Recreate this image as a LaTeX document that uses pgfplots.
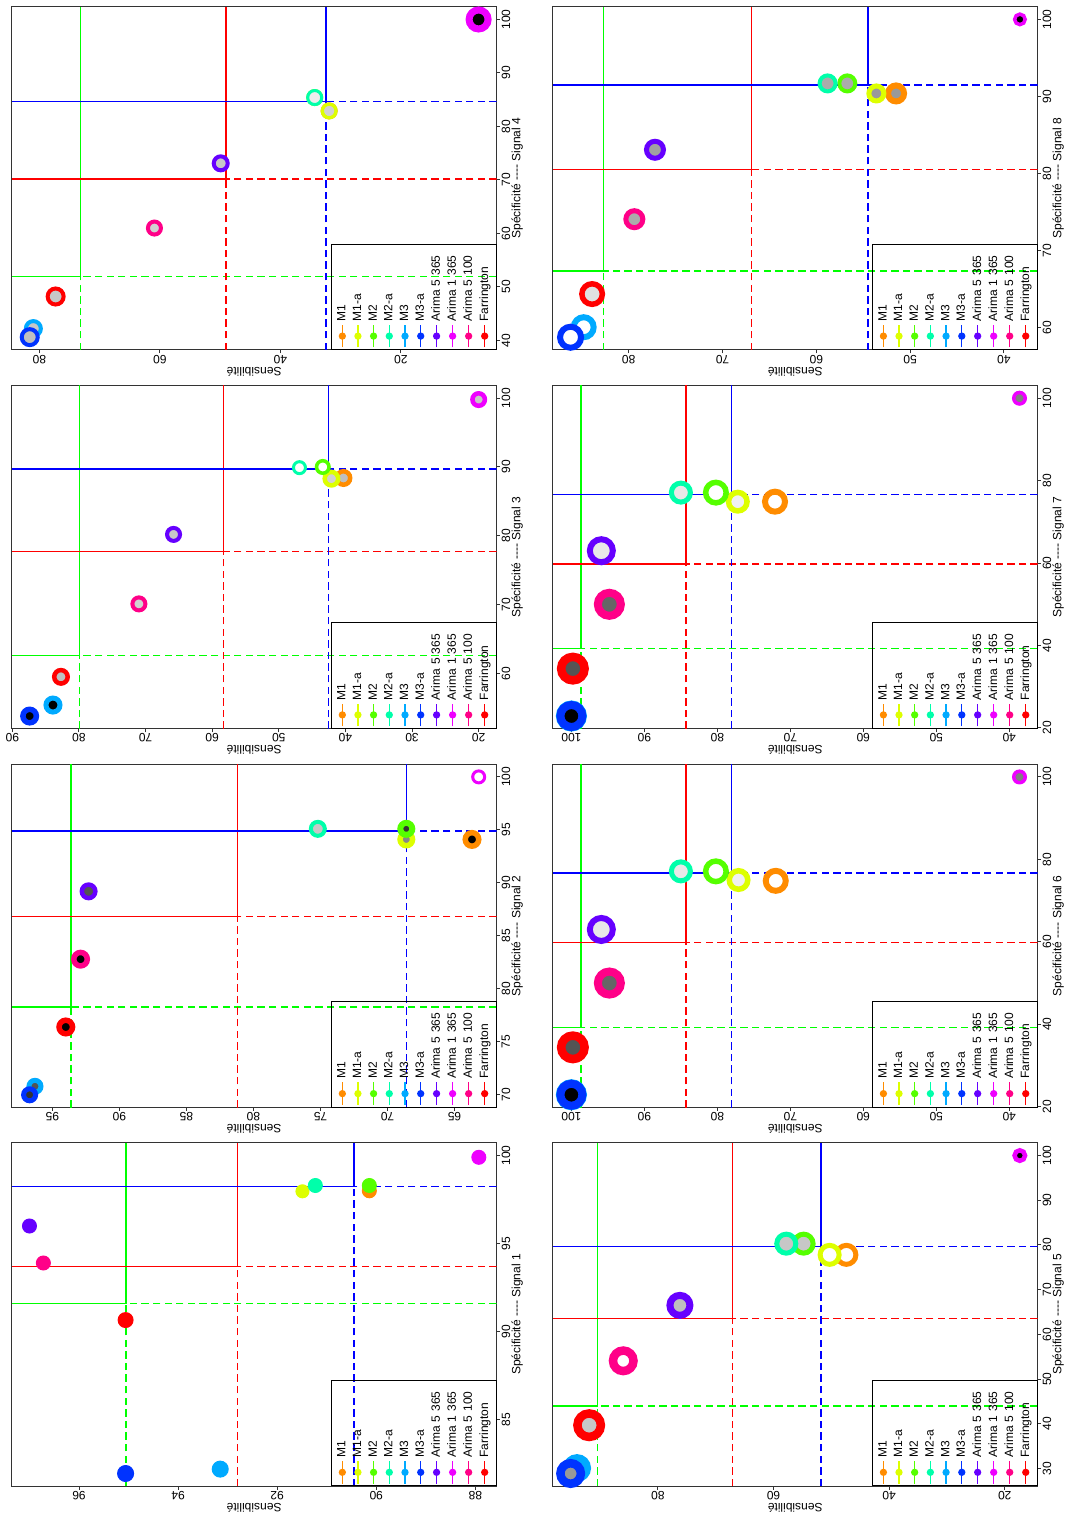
\documentclass[border=0pt]{standalone}
\usepackage{graphicx}
\usepackage{fontspec}
\setmainfont{Liberation Sans}
\usepackage{pgfplots}
\pgfplotsset{compat=1.18}

\definecolor{cMa}{HTML}{FF8C00}
\definecolor{cMb}{HTML}{DDFF00}
\definecolor{cMc}{HTML}{55FF00}
\definecolor{cMd}{HTML}{00FFAA}
\definecolor{cMe}{HTML}{00AAFF}
\definecolor{cMf}{HTML}{0033FF}
\definecolor{cAa}{HTML}{6600FF}
\definecolor{cAb}{HTML}{EE00FF}
\definecolor{cAc}{HTML}{FF0088}
\definecolor{cFa}{HTML}{FF0000}
\definecolor{frame}{HTML}{333333}
\definecolor{lgr}{HTML}{00FF00}
\definecolor{lrd}{HTML}{FF0000}
\definecolor{lbl}{HTML}{0000FF}

\newcommand{\fs}{\fontsize{9}{10.8}\selectfont}

\pgfplotsset{
  panel/.style={
    scale only axis, width=257.5pt, height=363.75pt,
    anchor=south west,
    axis line style={draw=frame, line width=0.75pt},
    tick align=outside, xtick pos=left, ytick pos=left,
    major tick length=2.6pt,
    tick style={draw=frame, line width=0.75pt},
    /pgf/number format/assume math mode=true,
    tick label style={font=\fs},
    xticklabel style={inner sep=1pt},
    yticklabel style={rotate=90, anchor=south, inner sep=1pt},
    label style={font=\fs},
    xlabel style={at={(axis description cs:0.5,-0.03)}, anchor=north, inner sep=0pt},
    ylabel style={at={(axis description cs:-0.049,0.5)}, anchor=south, inner sep=0pt},
    ylabel={Sensibilité},
    legend style={at={(0,0)}, anchor=south west, draw=black, line width=0.75pt, fill=none, font=\fs, inner xsep=1pt, inner ysep=2.6pt, row sep=0pt},
    legend cell align=left,
  },
  pt/.style n args={4}{forget plot, only marks, mark=*, mark size=#2, mark options={draw=#1, fill=#4, line width=#3, solid}},
  ls/.style={forget plot, no marks, line width=1pt},
  ds/.style={forget plot, no marks, line width=1pt, dash pattern=on 5.5pt off 3.2pt},
}

\newcommand{\leg}{%
\addlegendimage{cMa, line width=1pt, mark=*, mark size=2.2pt, mark options={solid, fill=cMa}}\addlegendentry[text width=55pt]{M1}
\addlegendimage{cMb, line width=1pt, mark=*, mark size=2.2pt, mark options={solid, fill=cMb}}\addlegendentry[text width=55pt]{M1-a}
\addlegendimage{cMc, line width=1pt, mark=*, mark size=2.2pt, mark options={solid, fill=cMc}}\addlegendentry[text width=55pt]{M2}
\addlegendimage{cMd, line width=1pt, mark=*, mark size=2.2pt, mark options={solid, fill=cMd}}\addlegendentry[text width=55pt]{M2-a}
\addlegendimage{cMe, line width=1pt, mark=*, mark size=2.2pt, mark options={solid, fill=cMe}}\addlegendentry[text width=55pt]{M3}
\addlegendimage{cMf, line width=1pt, mark=*, mark size=2.2pt, mark options={solid, fill=cMf}}\addlegendentry[text width=55pt]{M3-a}
\addlegendimage{cAa, line width=1pt, mark=*, mark size=2.2pt, mark options={solid, fill=cAa}}\addlegendentry[text width=55pt]{Arima 5 365}
\addlegendimage{cAb, line width=1pt, mark=*, mark size=2.2pt, mark options={solid, fill=cAb}}\addlegendentry[text width=55pt]{Arima 1 365}
\addlegendimage{cAc, line width=1pt, mark=*, mark size=2.2pt, mark options={solid, fill=cAc}}\addlegendentry[text width=55pt]{Arima 5 100}
\addlegendimage{cFa, line width=1pt, mark=*, mark size=2.2pt, mark options={solid, fill=cFa}}\addlegendentry[text width=55pt]{Farrington}
}

\begin{document}
\rotatebox{90}{%
\begin{tikzpicture}

% ---------------- Signal 1
\begin{axis}[panel, at={(21.6pt,428.5pt)}, xmin=81.23, xmax=100.72, ymin=87.57, ymax=97.36,
  xtick={85,90,95,100}, ytick={88,90,92,94,96}, xlabel={Spécificité {-}{-}{-}{-} Signal 1}]
\leg
\addplot[pt={cMa}{5.25pt}{0.75pt}{cMa}] coordinates {(98.0,90.14)};
\addplot[pt={cMb}{4.9pt}{0.75pt}{cMb}] coordinates {(97.97,91.49)};
\addplot[pt={cMc}{5.25pt}{0.75pt}{cMc}] coordinates {(98.3,90.14)};
\addplot[pt={cMd}{5.25pt}{0.75pt}{cMd}] coordinates {(98.3,91.23)};
\addplot[pt={cMe}{6.0pt}{0.75pt}{cMe}] coordinates {(82.2,93.15)};
\addplot[pt={cMf}{6.0pt}{0.75pt}{cMf}] coordinates {(81.95,95.06)};
\addplot[pt={cAa}{5.25pt}{0.75pt}{cAa}] coordinates {(96.0,97.0)};
\addplot[pt={cAb}{5.25pt}{0.75pt}{cAb}] coordinates {(99.9,87.93)};
\addplot[pt={cAc}{5.25pt}{0.75pt}{cAc}] coordinates {(93.9,96.72)};
\addplot[pt={cFa}{5.6pt}{0.75pt}{cFa}] coordinates {(90.66,95.06)};
\addplot[ds, lgr] coordinates {(81.23,95.05)(91.6,95.05)};
\addplot[ls, lgr] coordinates {(91.6,95.05)(100.72,95.05)};
\addplot[ds, lgr] coordinates {(91.6,87.57)(91.6,95.05)};
\addplot[ls, lgr] coordinates {(91.6,95.05)(91.6,97.36)};
\addplot[ds, lrd] coordinates {(81.23,92.8)(93.7,92.8)};
\addplot[ls, lrd] coordinates {(93.7,92.8)(100.72,92.8)};
\addplot[ds, lrd] coordinates {(93.7,87.57)(93.7,92.8)};
\addplot[ls, lrd] coordinates {(93.7,92.8)(93.7,97.36)};
\addplot[ds, lbl] coordinates {(81.23,90.45)(98.24,90.45)};
\addplot[ls, lbl] coordinates {(98.24,90.45)(100.72,90.45)};
\addplot[ds, lbl] coordinates {(98.24,87.57)(98.24,90.45)};
\addplot[ls, lbl] coordinates {(98.24,90.45)(98.24,97.36)};
\end{axis}

% ---------------- Signal 2
\begin{axis}[panel, at={(305.6pt,428.5pt)}, xmin=68.8, xmax=101.2, ymin=61.86, ymax=98.04,
  xtick={70,75,80,85,90,95,100}, ytick={65,70,75,80,85,90,95}, xlabel={Spécificité {-}{-}{-}{-} Signal 2}]
\leg
\addplot[pt={cMa}{5.06pt}{4.13pt}{black}] coordinates {(94.1,63.7)};
\addplot[pt={cMb}{4.69pt}{4.13pt}{black!47}] coordinates {(94.1,68.6)};
\addplot[pt={cMc}{4.5pt}{4.5pt}{black!80}] coordinates {(95.1,68.6)};
\addplot[pt={cMd}{5.25pt}{3pt}{black!22}] coordinates {(95.1,75.2)};
\addplot[pt={cMe}{4.5pt}{3.75pt}{black!67}] coordinates {(70.8,96.3)};
\addplot[pt={cMf}{4.5pt}{3.75pt}{black!80}] coordinates {(70.0,96.7)};
\addplot[pt={cAa}{5.06pt}{3.38pt}{black!67}] coordinates {(89.2,92.3)};
\addplot[pt={cAb}{4.5pt}{2.25pt}{white}] coordinates {(100,63.2)};
\addplot[pt={cAc}{5.06pt}{4.13pt}{black}] coordinates {(82.8,92.9)};
\addplot[pt={cFa}{5.06pt}{4.13pt}{black}] coordinates {(76.4,94.0)};
\addplot[ds, lgr] coordinates {(68.8,93.6)(78.3,93.6)};
\addplot[ls, lgr] coordinates {(78.3,93.6)(101.2,93.6)};
\addplot[ds, lgr] coordinates {(78.3,61.86)(78.3,93.6)};
\addplot[ls, lgr] coordinates {(78.3,93.6)(78.3,98.04)};
\addplot[ds, lrd] coordinates {(68.8,81.2)(86.8,81.2)};
\addplot[ls, lrd] coordinates {(86.8,81.2)(101.2,81.2)};
\addplot[ds, lrd] coordinates {(86.8,61.86)(86.8,81.2)};
\addplot[ls, lrd] coordinates {(86.8,81.2)(86.8,98.04)};
\addplot[ds, lbl] coordinates {(68.8,68.6)(94.9,68.6)};
\addplot[ls, lbl] coordinates {(94.9,68.6)(101.2,68.6)};
\addplot[ds, lbl] coordinates {(94.9,61.86)(94.9,68.6)};
\addplot[ls, lbl] coordinates {(94.9,68.6)(94.9,98.04)};
\end{axis}

% ---------------- Signal 3
\begin{axis}[panel, at={(589.65pt,428.5pt)}, xmin=51.95, xmax=101.85, ymin=17.3, ymax=90.1,
  xtick={60,70,80,90,100}, ytick={20,30,40,50,60,70,80,90}, xlabel={Spécificité {-}{-}{-}{-} Signal 3}]
\leg
\addplot[pt={cMa}{5.06pt}{3.38pt}{black!25}] coordinates {(88.4,40.3)};
\addplot[pt={cMb}{5.06pt}{3.38pt}{black!18}] coordinates {(88.3,42.1)};
\addplot[pt={cMc}{4.69pt}{2.63pt}{white}] coordinates {(90.0,43.4)};
\addplot[pt={cMd}{4.5pt}{2.25pt}{white}] coordinates {(89.9,46.9)};
\addplot[pt={cMe}{5.25pt}{3.75pt}{black}] coordinates {(55.4,83.9)};
\addplot[pt={cMf}{5.06pt}{4.13pt}{black}] coordinates {(53.8,87.4)};
\addplot[pt={cAa}{4.88pt}{3pt}{black!22}] coordinates {(80.2,65.8)};
\addplot[pt={cAb}{4.69pt}{3.38pt}{black!22}] coordinates {(99.8,20.0)};
\addplot[pt={cAc}{4.88pt}{3pt}{black!18}] coordinates {(70.1,71.0)};
\addplot[pt={cFa}{5.06pt}{3.38pt}{black!25}] coordinates {(59.5,82.7)};
\addplot[ds, lgr] coordinates {(51.95,79.9)(62.6,79.9)};
\addplot[ls, lgr] coordinates {(62.6,79.9)(101.85,79.9)};
\addplot[ds, lgr] coordinates {(62.6,17.3)(62.6,79.9)};
\addplot[ls, lgr] coordinates {(62.6,79.9)(62.6,90.1)};
\addplot[ds, lrd] coordinates {(51.95,58.3)(77.7,58.3)};
\addplot[ls, lrd] coordinates {(77.7,58.3)(101.85,58.3)};
\addplot[ds, lrd] coordinates {(77.7,17.3)(77.7,58.3)};
\addplot[ls, lrd] coordinates {(77.7,58.3)(77.7,90.1)};
\addplot[ds, lbl] coordinates {(51.95,42.5)(89.7,42.5)};
\addplot[ls, lbl] coordinates {(89.7,42.5)(101.85,42.5)};
\addplot[ds, lbl] coordinates {(89.7,17.3)(89.7,42.5)};
\addplot[ls, lbl] coordinates {(89.7,42.5)(89.7,90.1)};
\end{axis}

% ---------------- Signal 4
\begin{axis}[panel, at={(873.75pt,428.5pt)}, xmin=38.2, xmax=102.4, ymin=4.1, ymax=84.6,
  xtick={40,50,60,70,80,90,100}, ytick={20,40,60,80}, xlabel={Spécificité {-}{-}{-}{-} Signal 4}]
\leg
\addplot[pt={cMa}{5.14pt}{2.48pt}{black!18}] coordinates {(82.9,31.9)};
\addplot[pt={cMb}{5.14pt}{2.48pt}{black!18}] coordinates {(82.9,31.9)};
\addplot[pt={cMc}{5.25pt}{2.25pt}{black!7}] coordinates {(85.4,34.3)};
\addplot[pt={cMd}{5.25pt}{2.25pt}{black!7}] coordinates {(85.4,34.3)};
\addplot[pt={cMe}{5.63pt}{3pt}{black!22}] coordinates {(42.2,81.0)};
\addplot[pt={cMf}{6pt}{3pt}{black!25}] coordinates {(40.6,81.6)};
\addplot[pt={cAa}{5.25pt}{3pt}{black!22}] coordinates {(73.1,49.9)};
\addplot[pt={cAb}{7.13pt}{5.25pt}{black}] coordinates {(100,7.1)};
\addplot[pt={cAc}{4.88pt}{3pt}{black!18}] coordinates {(61.0,60.9)};
\addplot[pt={cFa}{6pt}{3pt}{black!22}] coordinates {(48.2,77.3)};
\addplot[ds, lgr] coordinates {(38.2,73.2)(51.9,73.2)};
\addplot[ls, lgr] coordinates {(51.9,73.2)(102.4,73.2)};
\addplot[ds, lgr] coordinates {(51.9,4.1)(51.9,73.2)};
\addplot[ls, lgr] coordinates {(51.9,73.2)(51.9,84.6)};
\addplot[ds, lrd] coordinates {(38.2,49.0)(70.2,49.0)};
\addplot[ls, lrd] coordinates {(70.2,49.0)(102.4,49.0)};
\addplot[ds, lrd] coordinates {(70.2,4.1)(70.2,49.0)};
\addplot[ls, lrd] coordinates {(70.2,49.0)(70.2,84.6)};
\addplot[ds, lbl] coordinates {(38.2,32.4)(84.7,32.4)};
\addplot[ls, lbl] coordinates {(84.7,32.4)(102.4,32.4)};
\addplot[ds, lbl] coordinates {(84.7,4.1)(84.7,32.4)};
\addplot[ls, lbl] coordinates {(84.7,32.4)(84.7,84.6)};
\end{axis}

% ---------------- Signal 5
\begin{axis}[panel, at={(21.6pt,22.7pt)}, xmin=26.06, xmax=102.84, ymin=14.3, ymax=98.2,
  xtick={30,40,50,60,70,80,90,100}, ytick={20,40,60,80}, xlabel={Spécificité {-}{-}{-}{-} Signal 5}]
\leg
\addplot[pt={cMa}{7.13pt}{3.75pt}{white}] coordinates {(77.8,47.4)};
\addplot[pt={cMb}{7.13pt}{3.75pt}{white}] coordinates {(77.8,50.3)};
\addplot[pt={cMc}{7.13pt}{3.75pt}{black!22}] coordinates {(80.3,54.8)};
\addplot[pt={cMd}{7.13pt}{3.75pt}{black!22}] coordinates {(80.3,57.8)};
\addplot[pt={cMe}{7.5pt}{6pt}{black!25}] coordinates {(30.1,94.0)};
\addplot[pt={cMf}{7.69pt}{6.38pt}{black!40}] coordinates {(28.9,95.1)};
\addplot[pt={cAa}{7.5pt}{5.25pt}{black!25}] coordinates {(66.5,76.2)};
\addplot[pt={cAb}{3.94pt}{3.38pt}{black}] coordinates {(100,17.4)};
\addplot[pt={cAc}{7.69pt}{6.38pt}{white}] coordinates {(54.1,86.0)};
\addplot[pt={cFa}{8.81pt}{6.38pt}{black!22}] coordinates {(39.7,91.9)};
\addplot[ds, lgr] coordinates {(26.06,90.4)(44.0,90.4)};
\addplot[ls, lgr] coordinates {(44.0,90.4)(102.84,90.4)};
\addplot[ds, lgr] coordinates {(44.0,14.3)(44.0,90.4)};
\addplot[ls, lgr] coordinates {(44.0,90.4)(44.0,98.2)};
\addplot[ds, lrd] coordinates {(26.06,67.1)(63.5,67.1)};
\addplot[ls, lrd] coordinates {(63.5,67.1)(102.84,67.1)};
\addplot[ds, lrd] coordinates {(63.5,14.3)(63.5,67.1)};
\addplot[ls, lrd] coordinates {(63.5,67.1)(63.5,98.2)};
\addplot[ds, lbl] coordinates {(26.06,51.8)(79.7,51.8)};
\addplot[ls, lbl] coordinates {(79.7,51.8)(102.84,51.8)};
\addplot[ds, lbl] coordinates {(79.7,14.3)(79.7,51.8)};
\addplot[ls, lbl] coordinates {(79.7,51.8)(79.7,98.2)};
\end{axis}

% ---------------- Signal 6
\begin{axis}[panel, at={(305.6pt,22.7pt)}, xmin=19.8, xmax=103.1, ymin=36.1, ymax=102.56,
  xtick={20,40,60,80,100}, ytick={40,50,60,70,80,90,100}, xlabel={Spécificité {-}{-}{-}{-} Signal 6}]
\leg
\addplot[pt={cMa}{7.5pt}{4.5pt}{white}] coordinates {(74.8,72.0)};
\addplot[pt={cMb}{6.94pt}{4.13pt}{black!6}] coordinates {(75.0,77.1)};
\addplot[pt={cMc}{7.69pt}{4.13pt}{white}] coordinates {(77.1,80.2)};
\addplot[pt={cMd}{7.13pt}{3.75pt}{black!9}] coordinates {(77.1,85.0)};
\addplot[pt={cMe}{8.63pt}{6pt}{black}] coordinates {(22.9,100.0)};
\addplot[pt={cMf}{8.25pt}{6pt}{black}] coordinates {(22.9,100.0)};
\addplot[pt={cAa}{8.63pt}{4.5pt}{black!9}] coordinates {(63.0,95.9)};
\addplot[pt={cAb}{4.31pt}{2.63pt}{black!50}] coordinates {(100,38.6)};
\addplot[pt={cAc}{8.63pt}{6pt}{black!60}] coordinates {(50.0,94.8)};
\addplot[pt={cFa}{8.81pt}{6.38pt}{black!67}] coordinates {(34.4,99.8)};
\addplot[ds, lgr] coordinates {(19.8,98.7)(39.2,98.7)};
\addplot[ls, lgr] coordinates {(39.2,98.7)(103.1,98.7)};
\addplot[ds, lgr] coordinates {(39.2,36.1)(39.2,98.7)};
\addplot[ls, lgr] coordinates {(39.2,98.7)(39.2,102.56)};
\addplot[ds, lrd] coordinates {(19.8,84.3)(59.8,84.3)};
\addplot[ls, lrd] coordinates {(59.8,84.3)(103.1,84.3)};
\addplot[ds, lrd] coordinates {(59.8,36.1)(59.8,84.3)};
\addplot[ls, lrd] coordinates {(59.8,84.3)(59.8,102.56)};
\addplot[ds, lbl] coordinates {(19.8,78.1)(76.7,78.1)};
\addplot[ls, lbl] coordinates {(76.7,78.1)(103.1,78.1)};
\addplot[ds, lbl] coordinates {(76.7,36.1)(76.7,78.1)};
\addplot[ls, lbl] coordinates {(76.7,78.1)(76.7,102.56)};
\end{axis}

% ---------------- Signal 7
\begin{axis}[panel, at={(589.65pt,22.7pt)}, xmin=19.8, xmax=103.1, ymin=36.1, ymax=102.56,
  xtick={20,40,60,80,100}, ytick={40,50,60,70,80,90,100}, xlabel={Spécificité {-}{-}{-}{-} Signal 7}]
\leg
\addplot[pt={cMa}{7.5pt}{4.5pt}{white}] coordinates {(74.9,72.1)};
\addplot[pt={cMb}{6.94pt}{4.13pt}{black!6}] coordinates {(74.9,77.2)};
\addplot[pt={cMc}{7.69pt}{4.13pt}{white}] coordinates {(77.1,80.2)};
\addplot[pt={cMd}{7.13pt}{3.75pt}{black!9}] coordinates {(77.1,85.0)};
\addplot[pt={cMe}{8.63pt}{6pt}{black}] coordinates {(22.9,100.0)};
\addplot[pt={cMf}{8.25pt}{6pt}{black}] coordinates {(22.9,100.0)};
\addplot[pt={cAa}{8.63pt}{4.5pt}{black!9}] coordinates {(63.0,95.9)};
\addplot[pt={cAb}{4.31pt}{2.63pt}{black!50}] coordinates {(100,38.6)};
\addplot[pt={cAc}{8.63pt}{6pt}{black!60}] coordinates {(50.0,94.8)};
\addplot[pt={cFa}{8.81pt}{6.38pt}{black!67}] coordinates {(34.4,99.8)};
\addplot[ds, lgr] coordinates {(19.8,98.7)(39.2,98.7)};
\addplot[ls, lgr] coordinates {(39.2,98.7)(103.1,98.7)};
\addplot[ds, lgr] coordinates {(39.2,36.1)(39.2,98.7)};
\addplot[ls, lgr] coordinates {(39.2,98.7)(39.2,102.56)};
\addplot[ds, lrd] coordinates {(19.8,84.3)(59.8,84.3)};
\addplot[ls, lrd] coordinates {(59.8,84.3)(103.1,84.3)};
\addplot[ds, lrd] coordinates {(59.8,36.1)(59.8,84.3)};
\addplot[ls, lrd] coordinates {(59.8,84.3)(59.8,102.56)};
\addplot[ds, lbl] coordinates {(19.8,78.1)(76.6,78.1)};
\addplot[ls, lbl] coordinates {(76.6,78.1)(103.1,78.1)};
\addplot[ds, lbl] coordinates {(76.6,36.1)(76.6,78.1)};
\addplot[ls, lbl] coordinates {(76.6,78.1)(76.6,102.56)};
\end{axis}

% ---------------- Signal 8
\begin{axis}[panel, at={(873.75pt,22.7pt)}, xmin=57.15, xmax=101.65, ymin=36.4, ymax=88.1,
  xtick={60,70,80,90,100}, ytick={40,50,60,70,80}, xlabel={Spécificité {-}{-}{-}{-} Signal 8}]
\leg
\addplot[pt={cMa}{6pt}{4.5pt}{black!40}] coordinates {(90.4,51.5)};
\addplot[pt={cMb}{5.63pt}{3.75pt}{black!40}] coordinates {(90.4,53.6)};
\addplot[pt={cMc}{6pt}{3pt}{black!33}] coordinates {(91.7,56.7)};
\addplot[pt={cMd}{6pt}{3pt}{black!33}] coordinates {(91.7,58.8)};
\addplot[pt={cMe}{7.5pt}{4.5pt}{white}] coordinates {(60.1,84.8)};
\addplot[pt={cMf}{7.88pt}{4.5pt}{white}] coordinates {(58.8,86.2)};
\addplot[pt={cAa}{6.38pt}{3.75pt}{black!37}] coordinates {(83.1,77.2)};
\addplot[pt={cAb}{3.94pt}{2.63pt}{black}] coordinates {(100,38.3)};
\addplot[pt={cAc}{6.38pt}{3.75pt}{black!33}] coordinates {(74.1,79.4)};
\addplot[pt={cFa}{7.69pt}{4.13pt}{black!12}] coordinates {(64.4,83.9)};
\addplot[ds, lgr] coordinates {(57.15,82.7)(67.4,82.7)};
\addplot[ls, lgr] coordinates {(67.4,82.7)(101.65,82.7)};
\addplot[ds, lgr] coordinates {(67.4,36.4)(67.4,82.7)};
\addplot[ls, lgr] coordinates {(67.4,82.7)(67.4,88.1)};
\addplot[ds, lrd] coordinates {(57.15,66.9)(80.5,66.9)};
\addplot[ls, lrd] coordinates {(80.5,66.9)(101.65,66.9)};
\addplot[ds, lrd] coordinates {(80.5,36.4)(80.5,66.9)};
\addplot[ls, lrd] coordinates {(80.5,66.9)(80.5,88.1)};
\addplot[ds, lbl] coordinates {(57.15,54.5)(91.5,54.5)};
\addplot[ls, lbl] coordinates {(91.5,54.5)(101.65,54.5)};
\addplot[ds, lbl] coordinates {(91.5,36.4)(91.5,54.5)};
\addplot[ls, lbl] coordinates {(91.5,54.5)(91.5,88.1)};
\end{axis}

\pgfresetboundingbox
\useasboundingbox (0,0) rectangle (1136.25pt,801pt);
\end{tikzpicture}}
\end{document}
